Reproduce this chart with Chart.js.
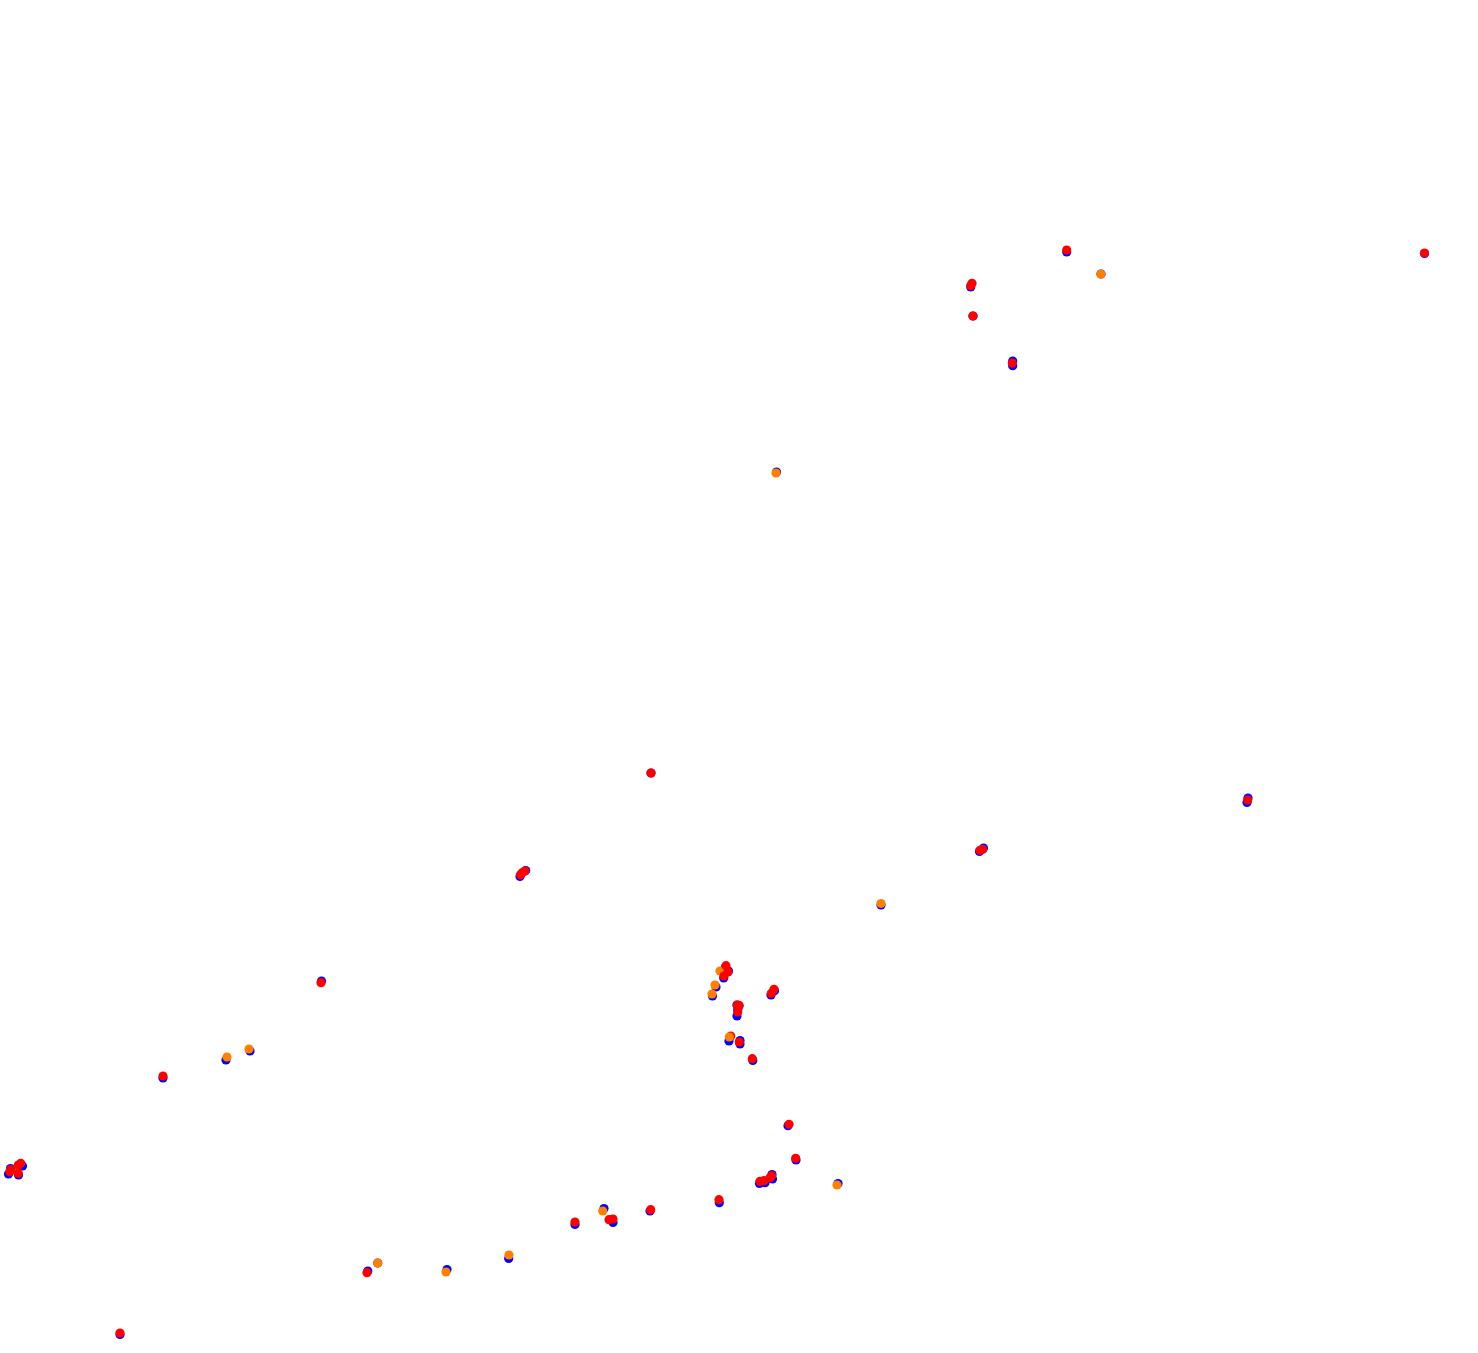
<!DOCTYPE html>
<html>
<head>
<meta charset="utf-8">
<title>Scatter</title>
<script src="https://cdn.jsdelivr.net/npm/chart.js@4"></script>
<style>
  html, body { margin: 0; padding: 0; background: #fff; }
  canvas { display: block; }
</style>
</head>
<body>
<canvas id="myChart" width="1478" height="1353"></canvas>
<script>
// Valeurs (pas d'axes visibles)
const blueX = [1424.5, 1066.7, 1101, 970.7, 973, 1012.7, 1012.7, 776.5, 651, 1248, 1247, 979.5, 983.5, 881, 520, 525.7, 321.5, 163, 226, 250,
  725.3, 728.5, 723.7, 716, 712.5, 774.5, 771, 739, 737, 737.7, 737, 729, 740, 740, 752.8,
  788, 796, 759.5, 765, 772, 772.5, 838, 604, 613, 575, 650, 719.3, 367.8, 447, 508.7, 120,
  8.5, 10.5, 18.5, 22.5, 377.7];
const blueY = [253.5, 252, 274, 287, 316, 361, 365.7, 472, 773, 798, 802.5, 851.5, 848, 905, 876.5, 870.5, 981, 1078, 1060, 1051,
  967.5, 971, 978, 987, 996, 990.7, 995, 1006, 1016, 1010, 1005, 1041, 1040.5, 1044, 1060.5,
  1125.7, 1160, 1183.5, 1182.7, 1174.5, 1179, 1183.5, 1208.5, 1222.5, 1224.5, 1211, 1202.7, 1271, 1269.5, 1258.5, 1334.5,
  1174, 1168.5, 1175, 1166, 1263];

const orangeX = [1101, 776, 720, 715, 712, 729.3, 837, 881, 602.7, 227, 249, 377.7, 446, 509];
const orangeY = [274, 473, 971, 985, 994, 1037, 1185, 903.5, 1211, 1057, 1049, 1263, 1272, 1255];

// Point rouge caché sous le point orange
const redUnderX = [730.7];
const redUnderY = [1036];

const redX = [1424.5, 1066.7, 972, 970.7, 973, 1012.3, 651, 1247.7, 980, 982.7, 520.5, 525, 522.3, 321, 163,
  726, 728, 724, 774, 771.3, 739, 737.3, 737.7, 739.3, 752.3,
  789, 795.7, 760, 764, 771.7, 770, 609, 613, 575, 650.7, 719, 367, 120,
  9.8, 11, 18.3, 20.7, 18.3];
const redY = [253, 250, 283.3, 285.7, 316, 363, 773, 800, 850.3, 849.3, 874.7, 871, 872.7, 982.7, 1076,
  965.7, 972, 976, 989.3, 993.3, 1005.3, 1005, 1012, 1042, 1058.7,
  1124.3, 1158.3, 1181.3, 1180.7, 1175.7, 1177.7, 1219.7, 1219, 1222, 1209.7, 1199.7, 1272.7, 1333,
  1171.7, 1169.5, 1173.3, 1163.3, 1165];

// Assemble les deux listes en points {x, y}
const toPoints = (xs, ys) => xs.map((x, i) => ({ x: x, y: ys[i] }));

const makeSet = (label, xs, ys, color) => ({
  label: label,
  data: toPoints(xs, ys),
  backgroundColor: color,
  borderWidth: 0,
  pointRadius: 4.6,
  pointHoverRadius: 4.6
});

const ctx = document.getElementById('myChart');
new Chart(ctx, {
  type: 'scatter',
  data: {
    // Le premier dataset est dessiné au-dessus : on les met du haut vers le bas
    datasets: [
      makeSet('red', redX, redY, '#ff0000'),
      makeSet('orange', orangeX, orangeY, '#ff8000'),
      makeSet('redUnder', redUnderX, redUnderY, '#ff0000'),
      makeSet('blue', blueX, blueY, '#0000ff')
    ]
  },
  options: {
    responsive: false,
    animation: false,
    // autoPadding désactivé sinon l'échelle est comprimée par le rayon des points
    layout: { padding: 0, autoPadding: false },
    plugins: { legend: { display: false }, tooltip: { enabled: false } },
    scales: {
      x: { type: 'linear', display: false, min: 0, max: 1478 },
      y: { type: 'linear', display: false, min: 0, max: 1353, reverse: true }
    }
  }
});
</script>
</body>
</html>
